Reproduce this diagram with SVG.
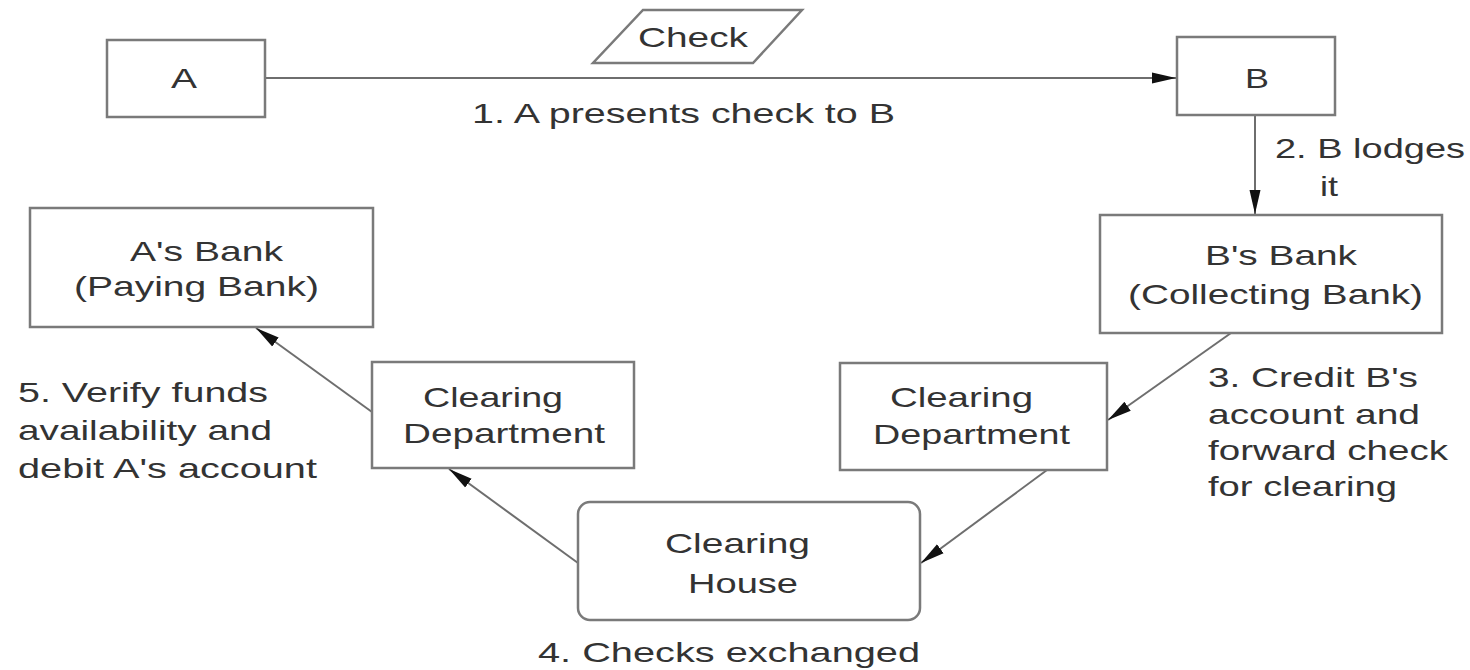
<svg xmlns="http://www.w3.org/2000/svg" width="1470" height="670" viewBox="0 0 1470 670">
  <style>
    .box { fill: #ffffff; stroke: #7a7a7a; stroke-width: 2.5; }
    .lbl { font-family: "Liberation Sans", Arial, sans-serif; font-size: 28px; fill: #333333; }
    .edge { stroke: #6e6e6e; stroke-width: 2; fill: none; marker-end: url(#head); }
  </style>
  <defs>
    <marker id="head" markerUnits="userSpaceOnUse" markerWidth="26" markerHeight="14" refX="24" refY="7" orient="auto">
      <path d="M0,1.5 L24,7 L0,12.5 z" fill="#111111"/>
    </marker>
  </defs>
  <rect width="1470" height="670" fill="#ffffff"/>

  <g id="connectors">
    <line class="edge" x1="265" y1="78" x2="1176" y2="78"/>
    <line class="edge" x1="1255" y1="115" x2="1255" y2="214"/>
    <line class="edge" x1="1231" y1="333" x2="1108" y2="420"/>
    <line class="edge" x1="1047" y1="470" x2="921" y2="563"/>
    <line class="edge" x1="578" y1="563" x2="449" y2="469"/>
    <line class="edge" x1="372" y1="412" x2="256" y2="328"/>
  </g>

  <g id="check">
    <polygon class="box" points="643,10 802,10 753,63 593,63"/>
    <text class="lbl" x="638" y="47" textLength="110" lengthAdjust="spacingAndGlyphs">Check</text>
  </g>

  <g id="step1-label">
    <text class="lbl" x="472" y="123" textLength="423" lengthAdjust="spacingAndGlyphs">1. A presents check to B</text>
  </g>

  <g id="node-a">
    <rect class="box" x="107" y="40" width="158" height="77"/>
    <text class="lbl" x="171" y="88" textLength="26" lengthAdjust="spacingAndGlyphs">A</text>
  </g>

  <g id="node-b">
    <rect class="box" x="1177" y="37" width="158" height="78"/>
    <text class="lbl" x="1245" y="88" textLength="24" lengthAdjust="spacingAndGlyphs">B</text>
  </g>

  <g id="step2-label">
    <text class="lbl" x="1275" y="158" textLength="190" lengthAdjust="spacingAndGlyphs">2. B lodges</text>
    <text class="lbl" x="1320" y="196" textLength="18" lengthAdjust="spacingAndGlyphs">it</text>
  </g>

  <g id="b-bank">
    <rect class="box" x="1100" y="215" width="342" height="118"/>
    <text class="lbl" x="1205" y="265" textLength="152" lengthAdjust="spacingAndGlyphs">B's Bank</text>
    <text class="lbl" x="1128" y="304" textLength="295" lengthAdjust="spacingAndGlyphs">(Collecting Bank)</text>
  </g>

  <g id="a-bank">
    <rect class="box" x="30" y="208" width="343" height="119"/>
    <text class="lbl" x="130" y="261" textLength="153" lengthAdjust="spacingAndGlyphs">A's Bank</text>
    <text class="lbl" x="74" y="296" textLength="245" lengthAdjust="spacingAndGlyphs">(Paying Bank)</text>
  </g>

  <g id="clearing-dept-a">
    <rect class="box" x="372" y="362" width="262" height="106"/>
    <text class="lbl" x="423" y="407" textLength="140" lengthAdjust="spacingAndGlyphs">Clearing</text>
    <text class="lbl" x="403" y="443" textLength="202" lengthAdjust="spacingAndGlyphs">Department</text>
  </g>

  <g id="clearing-dept-b">
    <rect class="box" x="840" y="363" width="267" height="107"/>
    <text class="lbl" x="890" y="407" textLength="143" lengthAdjust="spacingAndGlyphs">Clearing</text>
    <text class="lbl" x="873" y="444" textLength="197" lengthAdjust="spacingAndGlyphs">Department</text>
  </g>

  <g id="clearing-house">
    <rect class="box" x="578" y="502" width="342" height="118" rx="12" ry="12"/>
    <text class="lbl" x="665" y="553" textLength="145" lengthAdjust="spacingAndGlyphs">Clearing</text>
    <text class="lbl" x="688" y="593" textLength="110" lengthAdjust="spacingAndGlyphs">House</text>
  </g>

  <g id="step3-label">
    <text class="lbl" x="1208" y="387" textLength="210" lengthAdjust="spacingAndGlyphs">3. Credit B's</text>
    <text class="lbl" x="1208" y="424" textLength="212" lengthAdjust="spacingAndGlyphs">account and</text>
    <text class="lbl" x="1208" y="460" textLength="240" lengthAdjust="spacingAndGlyphs">forward check</text>
    <text class="lbl" x="1208" y="496" textLength="189" lengthAdjust="spacingAndGlyphs">for clearing</text>
  </g>

  <g id="step4-label">
    <text class="lbl" x="538" y="662" textLength="382" lengthAdjust="spacingAndGlyphs">4. Checks exchanged</text>
  </g>

  <g id="step5-label">
    <text class="lbl" x="18" y="402" textLength="250" lengthAdjust="spacingAndGlyphs">5. Verify funds</text>
    <text class="lbl" x="18" y="440" textLength="254" lengthAdjust="spacingAndGlyphs">availability and</text>
    <text class="lbl" x="18" y="478" textLength="299" lengthAdjust="spacingAndGlyphs">debit A's account</text>
  </g>
</svg>
